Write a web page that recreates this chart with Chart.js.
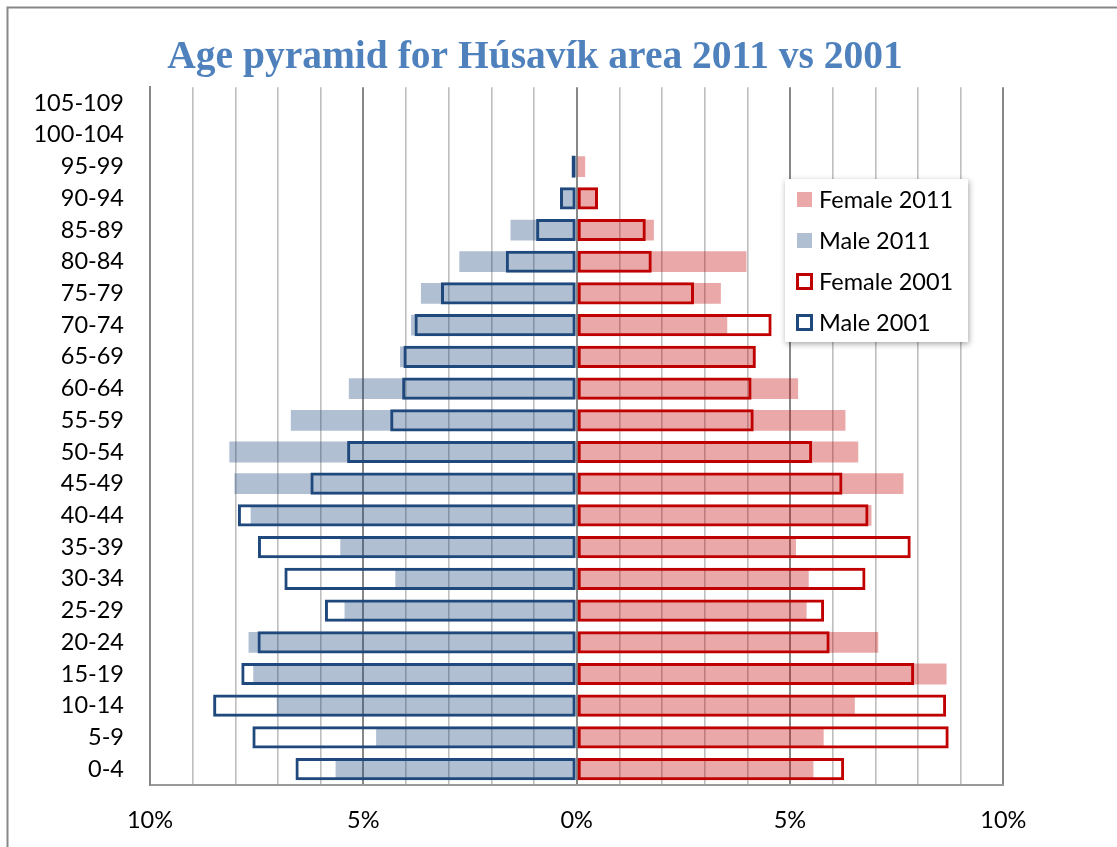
<!DOCTYPE html>
<html>
<head>
<meta charset="utf-8">
<title>Age pyramid for Húsavík area 2011 vs 2001</title>
<script src="https://cdn.jsdelivr.net/npm/chart.js@4"></script>
<style>
    html, body { margin: 0; padding: 0; background: #fff; }
    canvas { display: block; }
</style>
</head>
<body>
<canvas id="pyramidChart" width="1117" height="847"></canvas>
<script>
const chartTitle = "Age pyramid for Húsavík area 2011 vs 2001";

// age groups, bottom to top
const ageGroups = ["0-4", "5-9", "10-14", "15-19", "20-24", "25-29", "30-34", "35-39", "40-44", "45-49",
    "50-54", "55-59", "60-64", "65-69", "70-74", "75-79", "80-84", "85-89", "90-94", "95-99", "100-104", "105-109"];

// share of population in %
const female2011 = [5.55, 5.79, 6.52, 8.67, 7.07, 5.39, 5.44, 5.14, 6.91, 7.66, 6.60, 6.30, 5.19, 4.14, 3.53, 3.38, 3.98, 1.81, 0.47, 0.20, 0, 0];
const male2011 = [5.65, 4.70, 7.03, 7.58, 7.69, 5.44, 4.25, 5.54, 7.64, 8.02, 8.14, 6.70, 5.34, 4.14, 3.88, 3.65, 2.75, 1.55, 0.35, 0.10, 0, 0];
const female2001 = [6.27, 8.72, 8.66, 7.91, 5.93, 5.80, 6.77, 7.83, 6.84, 6.23, 5.52, 4.15, 4.10, 4.20, 4.57, 2.75, 1.76, 1.62, 0.50, 0, 0, 0];
const male2001 = [6.59, 7.60, 8.52, 7.86, 7.48, 5.90, 6.85, 7.47, 7.94, 6.24, 5.38, 4.37, 4.09, 4.06, 3.80, 3.18, 1.66, 0.95, 0.39, 0.12, 0, 0];

const xTickValues = [-10, -5, 0, 5, 10];
const xTickLabels = ["10%", "5%", "0%", "5%", "10%"];

const labelFont = { family: "Lato", size: 23.5 };

// outer frame of the chart object (only top and left edges are in view)
// and the title, which Excel centres a bit left of the plot
const framePlugin = {
    id: "frame",
    beforeDraw(chart) {
        const ctx = chart.ctx;
        ctx.save();
        ctx.fillStyle = "#fff";
        ctx.fillRect(0, 0, chart.width, chart.height);
        ctx.strokeStyle = "#878787";
        ctx.lineWidth = 2;
        ctx.beginPath();
        ctx.moveTo(7.5, chart.height);
        ctx.lineTo(7.5, 7.5);
        ctx.lineTo(chart.width, 7.5);
        ctx.stroke();

        ctx.fillStyle = "#4F81BD";
        ctx.font = "bold 39.5px 'Liberation Serif'";
        ctx.textAlign = "center";
        ctx.textBaseline = "alphabetic";
        ctx.fillText(chartTitle, 535, 67.5);
        ctx.restore();
    }
};

// boxed legend sitting inside the plot, like the Excel one
const boxLegendPlugin = {
    id: "boxLegend",
    afterDraw(chart) {
        const ctx = chart.ctx;
        const x = 785, y = 179, w = 183, h = 163;
        const rowGap = 41;
        ctx.save();
        ctx.shadowColor = "rgba(0,0,0,0.35)";
        ctx.shadowBlur = 6;
        ctx.shadowOffsetX = 1;
        ctx.shadowOffsetY = 2;
        ctx.fillStyle = "#fff";
        ctx.fillRect(x, y, w, h);
        ctx.restore();

        ctx.save();
        ctx.font = "23.5px Lato";
        ctx.textBaseline = "middle";
        ctx.textAlign = "left";
        chart.data.datasets.forEach((ds, i) => {
            const cy = y + 20.5 + i * rowGap;
            if (ds.borderWidth > 0) {
                ctx.strokeStyle = ds.borderColor;
                ctx.lineWidth = 3;
                ctx.strokeRect(797.5, cy - 7, 14, 14);
            } else {
                ctx.fillStyle = ds.backgroundColor;
                ctx.fillRect(797, cy - 7.5, 15, 15);
            }
            ctx.fillStyle = "#000";
            ctx.fillText(ds.label, 819, cy + 1);
        });
        ctx.restore();
    }
};

document.addEventListener("DOMContentLoaded", () => {

    const canvas = document.getElementById("pyramidChart");

    new Chart(canvas, {
        type: "bar",
        data: {
            labels: ageGroups,
            datasets: [{
                label: "Female 2011",
                data: female2011,
                backgroundColor: "rgba(192,0,0,0.34)",
                borderWidth: 0,
                barPercentage: 0.655,
                order: 2
            }, {
                label: "Male 2011",
                data: male2011.map(v => -v),
                backgroundColor: "rgba(31,73,125,0.35)",
                borderWidth: 0,
                barPercentage: 0.655,
                order: 2
            }, {
                label: "Female 2001",
                data: female2001,
                backgroundColor: "rgba(0,0,0,0)",
                borderColor: "#C00000",
                borderWidth: 3,
                borderSkipped: false,
                barPercentage: 0.70,
                order: 1
            }, {
                label: "Male 2001",
                data: male2001.map(v => -v),
                backgroundColor: "rgba(0,0,0,0)",
                borderColor: "#1F497D",
                borderWidth: 3,
                borderSkipped: false,
                barPercentage: 0.70,
                order: 1
            }]
        },
        options: {
            indexAxis: "y",
            responsive: false,
            animation: false,
            datasets: {
                bar: {
                    grouped: false,
                    categoryPercentage: 1,
                    inflateAmount: 0
                }
            },
            layout: {
                padding: { left: 20, right: 113.7, top: 87.3, bottom: 0 }
            },
            plugins: {
                legend: { display: false },
                tooltip: { enabled: false },
                title: { display: false }
            },
            scales: {
                x: {
                    min: -10,
                    max: 10,
                    afterFit: (scale) => { scale.height = 62; },
                    ticks: {
                        stepSize: 1,
                        autoSkip: false,
                        maxRotation: 0,
                        padding: 21,
                        color: "#000",
                        font: labelFont,
                        callback: (value) => {
                            const i = xTickValues.indexOf(value);
                            return i >= 0 ? xTickLabels[i] : "";
                        }
                    },
                    grid: {
                        drawTicks: false,
                        color: (ctx) => ctx.tick && ctx.tick.value % 5 === 0 ? "#878787" : "#BEBEBE",
                        lineWidth: (ctx) => ctx.tick && ctx.tick.value % 5 === 0 ? 2 : 1.6
                    },
                    border: { display: true, color: "#9a9a9a", width: 2 }
                },
                y: {
                    reverse: true,
                    afterFit: (scale) => { scale.width = 130; },
                    ticks: {
                        padding: 26,
                        color: "#000",
                        font: labelFont
                    },
                    grid: { display: false, drawTicks: false },
                    border: { display: true, color: "#878787", width: 2 }
                }
            }
        },
        plugins: [framePlugin, boxLegendPlugin]
    });

});
</script>
</body>
</html>
